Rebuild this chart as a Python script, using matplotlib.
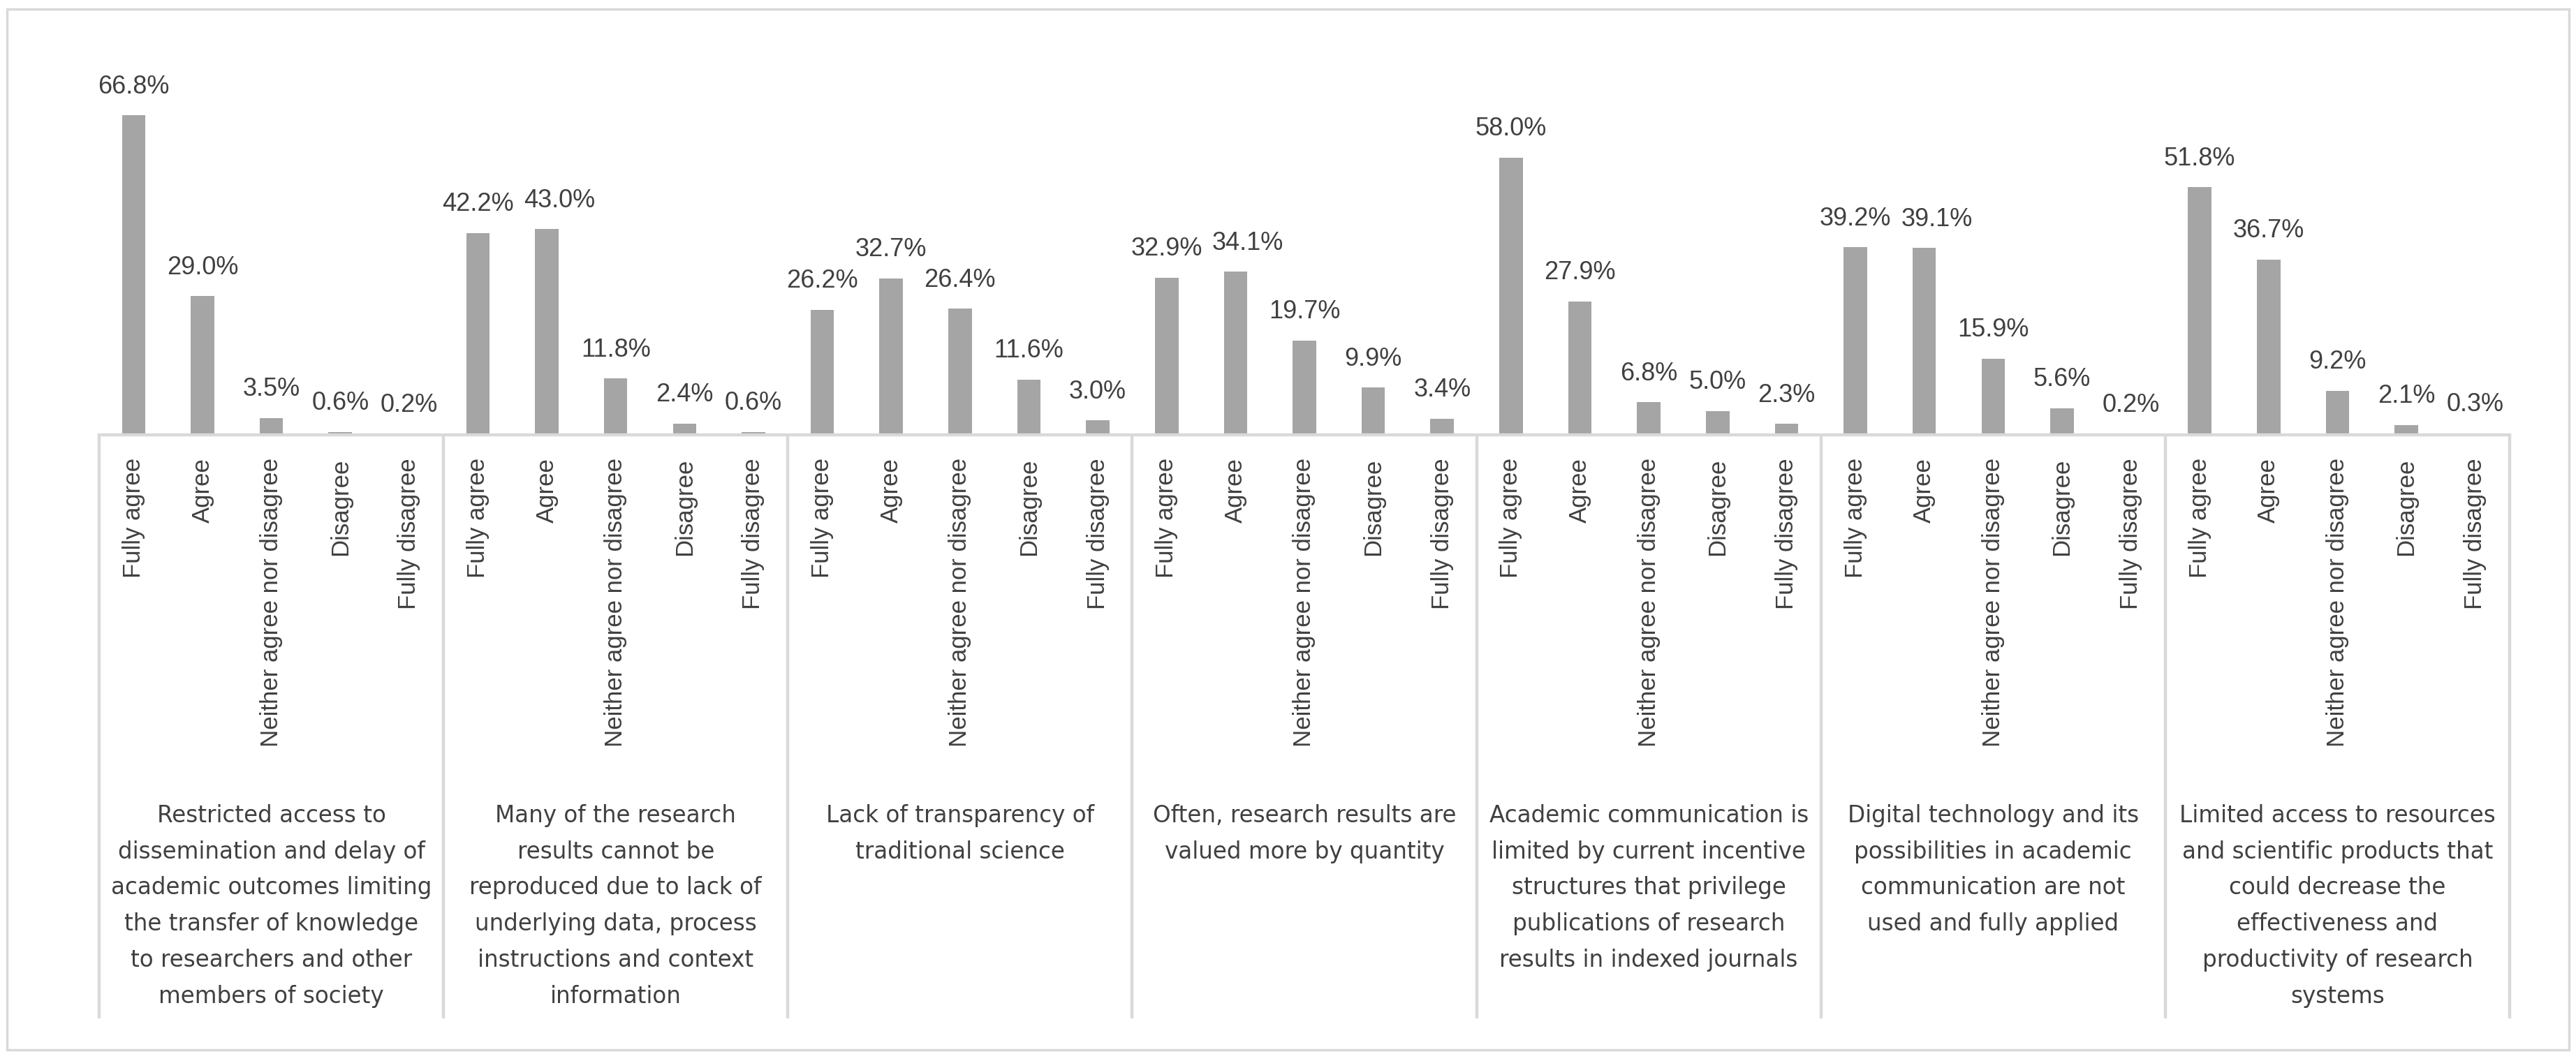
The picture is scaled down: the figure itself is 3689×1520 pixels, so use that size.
import matplotlib
matplotlib.use("Agg")
import matplotlib.pyplot as plt
from matplotlib.patches import Rectangle

# survey answers, one list per statement
responses = ["Fully agree", "Agree", "Neither agree nor disagree", "Disagree", "Fully disagree"]

statements = [
    "Restricted access to\ndissemination and delay of\nacademic outcomes limiting\nthe transfer of knowledge\nto researchers and other\nmembers of society",
    "Many of the research\nresults cannot be\nreproduced due to lack of\nunderlying data, process\ninstructions and context\ninformation",
    "Lack of transparency of\ntraditional science",
    "Often, research results are\nvalued more by quantity",
    "Academic communication is\nlimited by current incentive\nstructures that privilege\npublications of research\nresults in indexed journals",
    "Digital technology and its\npossibilities in academic\ncommunication are not\nused and fully applied",
    "Limited access to resources\nand scientific products that\ncould decrease the\neffectiveness and\nproductivity of research\nsystems",
]

restricted_access = [66.8, 29.0, 3.5, 0.6, 0.2]
not_reproducible = [42.2, 43.0, 11.8, 2.4, 0.6]
lack_transparency = [26.2, 32.7, 26.4, 11.6, 3.0]
valued_by_quantity = [32.9, 34.1, 19.7, 9.9, 3.4]
incentive_structures = [58.0, 27.9, 6.8, 5.0, 2.3]
digital_technology = [39.2, 39.1, 15.9, 5.6, 0.2]
limited_resources = [51.8, 36.7, 9.2, 2.1, 0.3]

groups = [restricted_access, not_reproducible, lack_transparency, valued_by_quantity,
          incentive_structures, digital_technology, limited_resources]

W, H = 3689, 1520
BAR = "#a5a5a5"
LINE = "#d9d9d9"
TXT = "#404040"

plt.rcParams["font.family"] = "Liberation Sans"

fig = plt.figure(figsize=(W / 100, H / 100), dpi=100)

# outer chart border
fig.patches.append(Rectangle((10 / W, 16 / H), 3669 / W, 1491 / H, transform=fig.transFigure,
                             fill=False, edgecolor=LINE, linewidth=2.5))

base_y = 623
ax = fig.add_axes([142 / W, (H - base_y) / H, (3594 - 142) / W, 548 / H])

values = [v for g in groups for v in g]
labels = [r for g in groups for r in responses]
x = list(range(len(values)))

ax.bar(x, values, width=0.34, color=BAR, zorder=2)
anns = []
for xi, v in zip(x, values):
    a = ax.annotate(f"{v:.1f}%", (xi, v), xytext=(0, 17), textcoords="offset points",
                    ha="center", va="bottom", fontsize=26, color=TXT)
    anns.append(a)

ax.set_xlim(-0.5, len(values) - 0.5)
ax.set_ylim(0, 80)
ax.set_yticks([])
ax.set_xticks(x)
ax.set_xticklabels(labels, rotation=90, fontsize=25, color=TXT, va="top")
ax.tick_params(axis="x", length=0, pad=24)
for s in ["top", "left", "right"]:
    ax.spines[s].set_visible(False)
ax.spines["bottom"].set_color(LINE)
ax.spines["bottom"].set_linewidth(3.2)

# group separators and statement labels
trans = ax.get_xaxis_transform()
bottom = (base_y - 1459) / 548
for k in range(len(groups) + 1):
    ax.plot([5 * k - 0.5, 5 * k - 0.5], [0, bottom], transform=trans, color=LINE,
            linewidth=3.2, clip_on=False, solid_capstyle="butt")
for k, name in enumerate(statements):
    ax.text(5 * k + 2, (base_y - 1152) / 548, name, transform=trans, ha="center", va="top",
            multialignment="center", fontsize=23.5, color=TXT, linespacing=1.72,
            family="DejaVu Sans")

# push a data label right when it runs into its neighbour, like Excel does
fig.canvas.draw()
r = fig.canvas.get_renderer()
for i in range(1, len(anns)):
    prev = anns[i - 1].get_window_extent(r)
    cur = anns[i].get_window_extent(r)
    if cur.y0 < prev.y1 and cur.y1 > prev.y0 and cur.x0 < prev.x1 + 14:
        dx = (prev.x1 + 14 - cur.x0) * 72 / 100
        ox, oy = anns[i].xyann
        anns[i].xyann = (ox + dx, oy)

fig.savefig("out.png", dpi=100)
